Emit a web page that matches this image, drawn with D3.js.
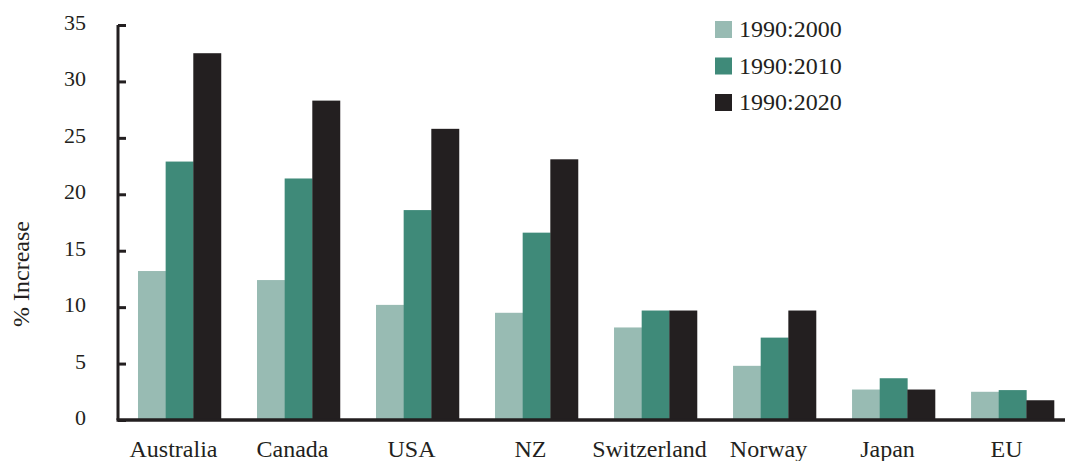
<!DOCTYPE html>
<html>
<head>
<meta charset="utf-8">
<script src="https://cdn.jsdelivr.net/npm/d3@7"></script>
<style>
  html, body { margin: 0; padding: 0; background: #fff; }
  svg { display: block; }
  text { font-family: "Liberation Serif", "DejaVu Serif", serif; fill: #231f20; }
</style>
</head>
<body>
<svg id="chart" width="1065" height="461"></svg>
<script>
const categories = ["Australia", "Canada", "USA", "NZ", "Switzerland", "Norway", "Japan", "EU"];
const seriesNames = ["1990:2000", "1990:2010", "1990:2020"];
const s2000 = [13.2, 12.4, 10.2, 9.5, 8.2, 4.8, 2.7, 2.5];
const s2010 = [22.9, 21.4, 18.6, 16.6, 9.7, 7.3, 3.7, 2.65];
const s2020 = [32.5, 28.3, 25.8, 23.1, 9.7, 9.7, 2.7, 1.75];
const yTicks = [0, 5, 10, 15, 20, 25, 30, 35];
const colors = ["#98bbb3", "#3f8a79", "#231f20"];

const series = [s2000, s2010, s2020];
const svg = d3.select("#chart");

const x0 = d3.scaleBand().domain(categories).range([118, 1074]).paddingInner(0.303).paddingOuter(0.168);
const x1 = d3.scaleBand().domain(d3.range(series.length)).range([0, x0.bandwidth()]).padding(0);
const y = d3.scaleLinear().domain([0, 35]).range([420, 25]);

// bars
const groups = svg.append("g").selectAll("g").data(categories).join("g")
  .attr("transform", d => `translate(${x0(d)},0)`);
groups.selectAll("rect")
  .data((d, i) => series.map((s, k) => ({k, v: s[i]})))
  .join("rect")
  .attr("x", d => x1(d.k))
  .attr("width", x1.bandwidth() + 0.3)
  .attr("y", d => y(d.v))
  .attr("height", d => y(0) - y(d.v))
  .attr("fill", d => colors[d.k]);

// y axis
const yAxis = d3.axisRight(y).tickValues(yTicks).tickSize(8).tickFormat("");
const gy = svg.append("g").attr("transform", "translate(118,0)").call(yAxis);
gy.select(".domain").attr("stroke", "#231f20").attr("stroke-width", 3).attr("d", `M0,${y(35)}V${y(0)}`);
gy.selectAll(".tick line").attr("stroke", "#231f20").attr("stroke-width", 3);

svg.append("g").selectAll("text").data(yTicks).join("text")
  .attr("x", 86).attr("y", d => y(d) + 5)
  .attr("text-anchor", "end")
  .attr("font-size", 22)
  .text(d => d);

// baseline
svg.append("line").attr("x1", 116.5).attr("x2", 1065).attr("y1", y(0)).attr("y2", y(0))
  .attr("stroke", "#231f20").attr("stroke-width", 3.5);

// x labels
const xAxis = d3.axisBottom(x0).tickSize(0).tickPadding(0);
const gx = svg.append("g").attr("transform", "translate(-6,0)").call(xAxis);
gx.select(".domain").remove();
gx.selectAll(".tick text").attr("y", 457).attr("dy", null)
  .attr("font-size", 24).attr("font-family", "Liberation Serif, DejaVu Serif, serif").attr("fill", "#231f20");

// y title
svg.append("text")
  .attr("transform", "translate(29,274) rotate(-90)")
  .attr("text-anchor", "middle")
  .attr("font-size", 24)
  .text("% Increase");

// legend
const leg = svg.append("g").selectAll("g").data(seriesNames).join("g")
  .attr("transform", (d, i) => `translate(715,${21 + i * 36.5})`);
leg.append("rect").attr("width", 17).attr("height", 17).attr("fill", (d, i) => colors[i]);
leg.append("text").attr("x", 24).attr("y", 16).attr("font-size", 24).text(d => d);
</script>
</body>
</html>
